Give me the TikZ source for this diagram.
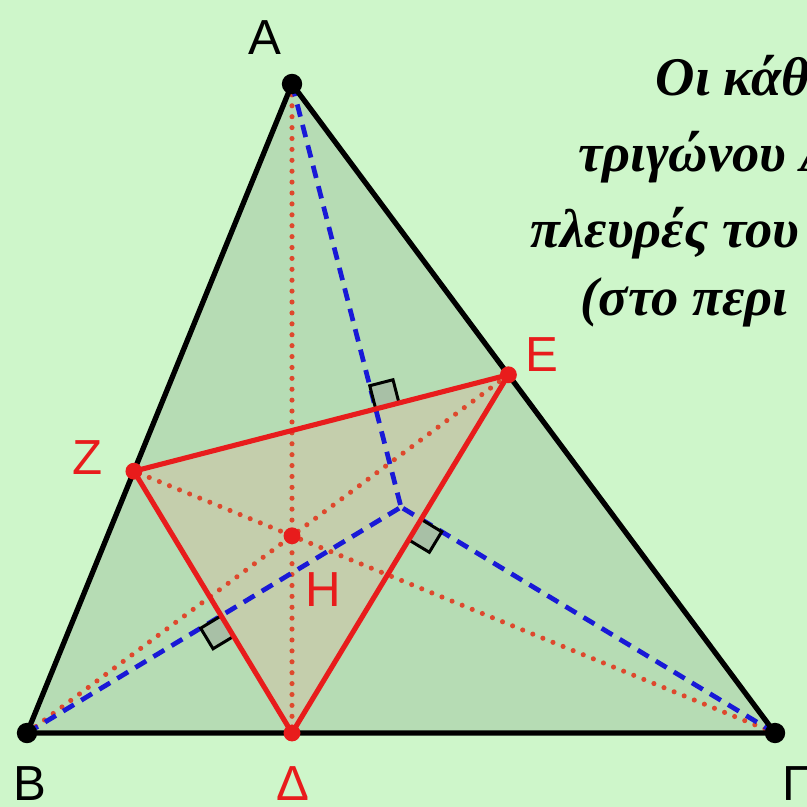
\documentclass[tikz,border=0pt]{standalone}
\usepackage{fontspec}
\setmainfont{Liberation Sans}
\newfontfamily\grserif{Liberation Serif}
\usetikzlibrary{calc}
\definecolor{bgc}{RGB}{206,246,202}
\definecolor{trifill}{RGB}{182,220,180}
\definecolor{orthfill}{RGB}{196,206,172}
\definecolor{myred}{RGB}{232,28,28}
\definecolor{dotred}{RGB}{222,72,45}
\definecolor{myblue}{RGB}{25,25,215}
\definecolor{markfill}{RGB}{168,192,166}
\tikzset{
  side/.style={line width=1.5pt, black, line join=round},
  orth/.style={line width=1.45pt, myred, line join=round},
  alt/.style={line width=1.45pt, dotred, line cap=round, dash pattern=on 0pt off 3.1pt},
  perp/.style={line width=1.35pt, myblue, dash pattern=on 3.6pt off 2.4pt},
  rmark/.style={line width=0.85pt, black, fill=markfill},
  bdot/.style={circle, fill=black, inner sep=0pt, minimum size=5.8pt},
  rdot/.style={circle, fill=myred, inner sep=0pt, minimum size=4.8pt},
  blab/.style={font=\fontsize{14}{16}\selectfont, text=black, inner sep=0pt},
  rlab/.style={font=\fontsize{14}{16}\selectfont, text=myred, inner sep=0pt},
  grtext/.style={font=\grserif\bfseries\itshape\fontsize{15.5}{18}\selectfont, anchor=base west, inner sep=0pt}
}
\begin{document}
\begin{tikzpicture}[x=0.01cm, y=-0.01cm]
\useasboundingbox (0,0) rectangle (807,807);
\clip (0,0) rectangle (807,807);
\fill[bgc] (0,0) rectangle (807,807);
% vertices
\coordinate (A) at (292,84);
\coordinate (B) at (27,733);
\coordinate (G) at (775,733);
\coordinate (D) at (292,733);
\coordinate (E) at (508.4,374.8);
\coordinate (Z) at (133.9,471.2);
\coordinate (H) at (292,535.8);
\coordinate (O) at (401,507.1);
% fills
\fill[trifill] (A) -- (B) -- (G) -- cycle;
\fill[orthfill] (D) -- (E) -- (Z) -- cycle;
% altitudes
\draw[alt] (A) -- (D);
\draw[alt] (B) -- (E);
\draw[alt] (G) -- (Z);
% perpendiculars through circumcenter
\draw[perp] (A) -- (O);
\draw[perp] (B) -- (O);
\draw[perp] (G) -- (O);
% right angle marks
\coordinate (P1) at (intersection of A--O and E--Z);
\coordinate (P2) at (intersection of B--O and Z--D);
\coordinate (P3) at (intersection of G--O and D--E);
\coordinate (P1a) at ($(P1)!0.24cm!(A)$);
\coordinate (P1b) at ($(P1)!0.24cm!(E)$);
\coordinate (P2a) at ($(P2)!0.24cm!(B)$);
\coordinate (P2b) at ($(P2)!0.24cm!(D)$);
\coordinate (P3a) at ($(P3)!0.24cm!(G)$);
\coordinate (P3b) at ($(P3)!0.24cm!(D)$);
\draw[rmark] (P1) -- (P1a) -- ($(P1a)+(P1b)-(P1)$) -- (P1b);
\draw[rmark] (P2) -- (P2a) -- ($(P2a)+(P2b)-(P2)$) -- (P2b);
\draw[rmark] (P3) -- (P3a) -- ($(P3a)+(P3b)-(P3)$) -- (P3b);
% orthic triangle
\draw[orth] (D) -- (E) -- (Z) -- cycle;
% main triangle
\draw[side] (A) -- (B) -- (G) -- cycle;
% dots
\node[bdot] (dA) at (A) {};
\node[bdot] (dB) at (B) {};
\node[bdot] (dG) at (G) {};
\node[rdot] (dD) at (D) {};
\node[rdot] (dE) at (E) {};
\node[rdot] (dZ) at (Z) {};
\node[rdot] (dH) at (H) {};
% labels
\node[blab] (lA) at (265,38) {A};
\node[blab] (lB) at (30,784) {B};
\node[blab] (lG) at (796,784) {Γ};
\node[rlab] (lD) at (293,784) {Δ};
\node[rlab] (lE) at (542,355) {E};
\node[rlab] (lZ) at (88,458) {Z};
\node[rlab] (lH) at (323,590) {H};
% text
\node[grtext] (t1) at (655,96) {Οι κάθ};
\node[grtext] (t2) at (578,172) {τριγώνου Α};
\node[grtext] (t3) at (530,248) {πλευρές του};
\node[grtext] (t4) at (580,316) {(στο περι};
\end{tikzpicture}
\end{document}
